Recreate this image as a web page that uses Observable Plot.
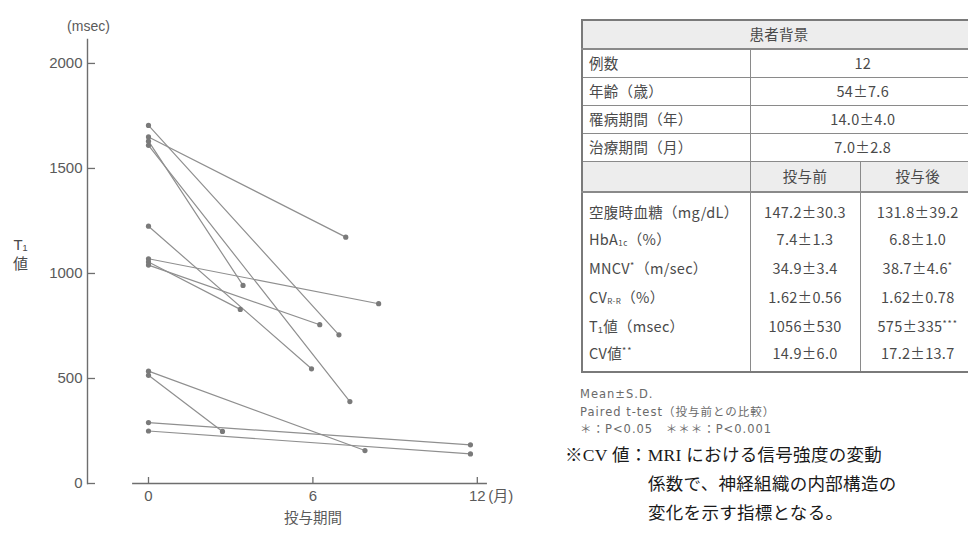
<!DOCTYPE html>
<html>
<head>
<meta charset="utf-8">
<script src="https://cdn.jsdelivr.net/npm/d3@7"></script>
<script src="https://cdn.jsdelivr.net/npm/@observablehq/plot@0.6"></script>
<style>
  html, body { margin: 0; padding: 0; background: #fff; }
  body { position: relative; width: 968px; height: 543px; overflow: hidden;
         font-family: "Liberation Sans", "Noto Sans CJK JP", sans-serif; }
  #chart { position: absolute; left: 0; top: 0; }
  #profile { position: absolute; left: 581px; top: 19px; width: 394px;
             border-collapse: collapse; table-layout: fixed;
             border: 2px solid #7a7a7a; color: #4a4a4a;
             font-family: "Noto Sans CJK JP", sans-serif;
             font-size: 14.5px; letter-spacing: 0.3px; }
  #profile td { border: 1px solid #8a8a8a; padding: 0 6px; height: 27.2px;
                white-space: nowrap; line-height: 1; }
  #profile td.c { text-align: center; }
  #profile tr.shade td { background: #ededed; }
  #profile tr.head td { height: 26.5px; border-bottom: 2px solid #8a8a8a; }
  #profile tr.sub td { height: 28.5px; border-bottom: 2px solid #8a8a8a; }
  #profile tr.body td { border-top: none; border-bottom: none; height: 29px; }
  #profile tr.body.first td { padding-top: 6px; height: 26px; }
  #profile tr.body.last td { padding-bottom: 5px; height: 25px; }
  #profile sub { font-size: 8px; vertical-align: -1px; letter-spacing: 0.5px; }
  #profile sup { font-size: 9px; vertical-align: 5px; letter-spacing: 1px; }
  #notes { position: absolute; left: 580px; top: 386px; color: #6a6a6a;
           font-family: "DejaVu Sans", "Noto Sans CJK JP", sans-serif;
           font-size: 11.5px; letter-spacing: 1px; line-height: 17.5px; }
  #remark { position: absolute; left: 565px; top: 441px; color: #1a1a1a;
            font-family: "Liberation Serif", "Noto Sans CJK JP", serif;
            font-size: 17.5px; line-height: 29px; letter-spacing: 0.3px; }
  #remark .cont { padding-left: 83px; }
</style>
</head>
<body>
<div id="chart"></div>
<table id="profile"></table>
<div id="notes"></div>
<div id="remark"></div>
<script>
// T1 values (msec) of the 12 patients before treatment (month 0)
const t1Before = [1705, 1650, 1630, 1610, 1225, 1070, 1055, 1040, 535, 515, 290, 250];
// T1 values (msec) at the follow-up examination
const t1After = [708, 1173, 943, 390, 546, 856, 829, 756, 157, 248, 184, 141];
// month of the follow-up examination for each patient
const followMonth = [6.95, 7.2, 3.45, 7.35, 5.95, 8.4, 3.35, 6.25, 7.9, 2.7, 11.75, 11.75];

// axis ticks
const yTicks = [0, 500, 1000, 1500, 2000];
const xTicks = [0, 6, 12];

// patient profile table
const profileTitle = "患者背景";
const profileLabels = ["例数", "年齢（歳）", "罹病期間（年）", "治療期間（月）"];
const profileValues = ["12", "54±7.6", "14.0±4.0", "7.0±2.8"];
const phaseLabels = ["投与前", "投与後"];
const measureLabels = ["空腹時血糖（mg/dL）", "HbA<sub>1c</sub>（%）", "MNCV<sup>*</sup>（m/sec）",
                       "CV<sub>R-R</sub>（%）", "T₁値（msec）", "CV値<sup>**</sup>"];
const measureBefore = ["147.2±30.3", "7.4±1.3", "34.9±3.4", "1.62±0.56", "1056±530", "14.9±6.0"];
const measureAfter = ["131.8±39.2", "6.8±1.0", "38.7±4.6<sup>*</sup>", "1.62±0.78",
                      "575±335<sup>***</sup>", "17.2±13.7"];

const noteLines = ["Mean±S.D.", "Paired t-test（投与前との比較）", "＊：P&lt;0.05　＊＊＊：P&lt;0.001"];
const remarkLines = ["※CV 値：MRI における信号強度の変動", "係数で、神経組織の内部構造の", "変化を示す指標となる。"];

// one record per measurement, grouped by patient
const points = t1Before.flatMap((v, i) => [
  {patient: i, month: 0, t1: v},
  {patient: i, month: followMonth[i], t1: t1After[i]}
]);

const ink = "#6e6e6e";

const chart = Plot.plot({
  width: 540,
  height: 543,
  marginTop: 39,
  marginBottom: 60,
  marginLeft: 87,
  marginRight: 35.8,
  x: {domain: [-2.226, 13]},
  y: {domain: [0, 2114]},
  style: {fontFamily: "Liberation Sans, Noto Sans CJK JP, sans-serif", fontSize: "15px",
          color: "#5a5a5a", background: "transparent"},
  marks: [
    Plot.frame({anchor: "left", stroke: ink, strokeWidth: 1.4}),
    Plot.axisY(yTicks, {tickSize: 8, dx: 8, tickPadding: 5, tickFormat: "d", label: null,
      stroke: ink, strokeWidth: 1.3}),
    Plot.ruleY([0], {x1: -0.58, x2: 12.37, stroke: ink, strokeWidth: 1.5}),
    Plot.axisX(xTicks, {tickSize: 6, dy: -6, tickPadding: 7, tickFormat: "d", label: null,
      stroke: ink, strokeWidth: 1.3}),
    Plot.text([xTicks[xTicks.length - 1]], {x: d => d, y: 0, text: () => "(月)", dx: 11, dy: 13,
      textAnchor: "start", fill: "#5a5a5a"}),
    Plot.text(["(msec)"], {frameAnchor: "top-left", dx: 1, dy: -18, textAnchor: "middle",
      fontSize: 14, fill: "#5a5a5a"}),
    Plot.text(["T₁\n値"], {frameAnchor: "left", dx: -67, dy: -8, textAnchor: "middle",
      lineHeight: 1.3, fill: "#4a4a4a"}),
    Plot.text(["投与期間"], {x: xTicks[1], frameAnchor: "bottom", dy: 39, fontSize: 14.5,
      fill: "#5a5a5a"}),
    Plot.line(points, {x: "month", y: "t1", z: "patient", stroke: "#8f8f8f", strokeWidth: 1.2}),
    Plot.dot(points, {x: "month", y: "t1", r: 2.6, fill: "#7a7a7a"})
  ]
});
document.getElementById("chart").append(chart);

// patient profile and before/after comparison table
const table = document.getElementById("profile");
let html = `<colgroup><col style="width:168px"><col style="width:110px"><col style="width:116px"></colgroup>`;
html += `<tr class="shade head"><td class="c" colspan="3">${profileTitle}</td></tr>`;
profileLabels.forEach((lab, i) => {
  html += `<tr><td>${lab}</td><td class="c" colspan="2">${profileValues[i]}</td></tr>`;
});
html += `<tr class="shade sub"><td></td><td class="c">${phaseLabels[0]}</td><td class="c">${phaseLabels[1]}</td></tr>`;
measureLabels.forEach((lab, i) => {
  const cls = "body" + (i === 0 ? " first" : "") + (i === measureLabels.length - 1 ? " last" : "");
  html += `<tr class="${cls}"><td>${lab}</td><td class="c">${measureBefore[i]}</td><td class="c">${measureAfter[i]}</td></tr>`;
});
table.innerHTML = html;

document.getElementById("notes").innerHTML = noteLines.map(s => `<div>${s}</div>`).join("");
document.getElementById("remark").innerHTML =
  `<div>${remarkLines[0]}</div>` + remarkLines.slice(1).map(s => `<div class="cont">${s}</div>`).join("");
</script>
</body>
</html>
